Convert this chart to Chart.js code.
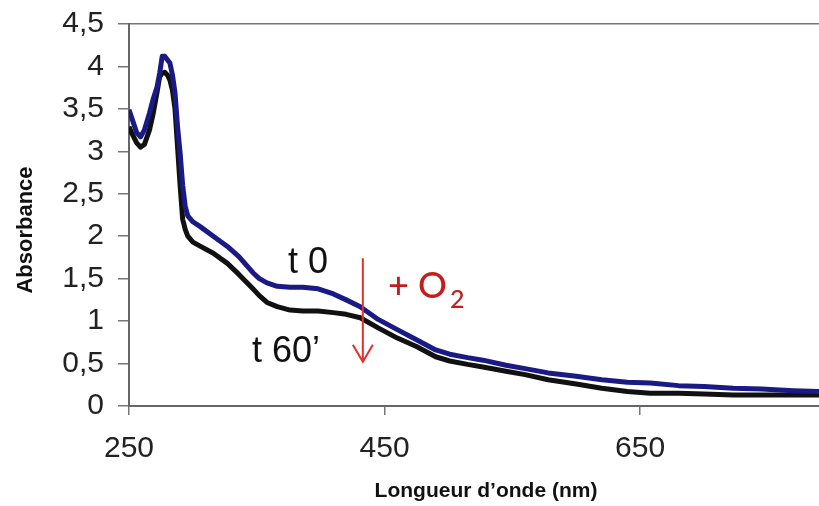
<!DOCTYPE html>
<html lang="fr">
<head>
  <meta charset="UTF-8">
  <title>Absorbance - Longueur d'onde</title>
  <script src="https://cdn.jsdelivr.net/npm/chart.js"></script>
  <style>
    body {
      margin: 0;
      padding: 0;
      background: #fff;
    }
    #wrap {
      width: 819px;
      height: 506px;
    }
  </style>
</head>
<body>
  <div id="wrap"><canvas id="graph"></canvas></div>

  <script>
    // longueur d'onde (nm)
    const wavelengths = [250, 252, 256, 259, 262, 266, 269, 272, 274, 276, 278, 280, 282, 284, 286, 288, 290, 292, 294, 296,
      300, 306, 316, 327, 336, 347, 352, 358, 366, 376, 386, 398, 410, 420, 431, 445, 460, 475, 490, 501,
      515, 527, 545, 560, 578, 600, 620, 640, 658, 680, 700, 723, 745, 770, 790];
    // t 0 (bleu)
    const absT0 = [3.49, 3.40, 3.22, 3.17, 3.25, 3.45, 3.62, 3.76, 3.92, 4.12, 4.12, 4.08, 4.04, 3.90, 3.69, 3.29, 2.98, 2.60, 2.35, 2.24,
      2.17, 2.11, 2.00, 1.88, 1.76, 1.57, 1.50, 1.45, 1.41, 1.40, 1.40, 1.38, 1.32, 1.25, 1.17, 1.02, 0.90, 0.78, 0.66, 0.61,
      0.57, 0.54, 0.48, 0.44, 0.39, 0.35, 0.31, 0.28, 0.27, 0.24, 0.23, 0.21, 0.20, 0.18, 0.17];
    // t 60' (noir)
    const absT60 = [3.29, 3.22, 3.10, 3.05, 3.08, 3.25, 3.45, 3.70, 3.88, 3.92, 3.93, 3.90, 3.84, 3.72, 3.50, 3.05, 2.60, 2.20, 2.08, 2.00,
      1.93, 1.88, 1.80, 1.68, 1.55, 1.38, 1.30, 1.22, 1.17, 1.13, 1.12, 1.12, 1.10, 1.08, 1.04, 0.92, 0.80, 0.70, 0.58, 0.53,
      0.49, 0.46, 0.41, 0.37, 0.31, 0.26, 0.21, 0.17, 0.15, 0.15, 0.14, 0.13, 0.13, 0.13, 0.13];
    const xTicks = [250, 450, 650];

    const toPoints = arr => wavelengths.map((w, i) => ({ x: w, y: arr[i] }));

    // textes, flèche et titres d'axes
    const annotations = {
      id: 'annotations',
      afterDraw(chart) {
        const c = chart.ctx;
        const xs = chart.scales.x, ys = chart.scales.y;
        c.save();

        c.fillStyle = '#111';
        c.font = '36px "Liberation Sans", Arial, sans-serif';
        c.textBaseline = 'alphabetic';
        c.textAlign = 'left';
        c.fillText('t 0', 288, 273);
        c.fillText('t 60\u2019', 252, 362);

        // flèche rouge
        const ax = xs.getPixelForValue(433);
        const y1 = ys.getPixelForValue(1.74);
        const y2 = ys.getPixelForValue(0.52);
        c.strokeStyle = '#e3302a';
        c.lineWidth = 2;
        c.beginPath();
        c.moveTo(ax, y1);
        c.lineTo(ax, y2);
        c.moveTo(ax - 10, y2 - 17);
        c.lineTo(ax, y2);
        c.lineTo(ax + 10, y2 - 17);
        c.stroke();

        c.fillStyle = '#c81c1c';
        c.font = '500 36px Lato, "Open Sans", sans-serif';
        c.fillText('+ O', 388, 298);
        c.font = '500 25px Lato, "Open Sans", sans-serif';
        c.fillText('2', 450, 308);

        // titres des axes
        c.fillStyle = '#111';
        c.font = 'bold 21px "Liberation Sans", Arial, sans-serif';
        c.textAlign = 'center';
        c.fillText('Longueur d\u2019onde (nm)', 486, 497);
        c.translate(32, 230);
        c.rotate(-Math.PI / 2);
        c.font = 'bold 22px "Liberation Sans", Arial, sans-serif';
        c.fillText('Absorbance', 0, 0);
        c.restore();
      }
    };

    const ctx = document.getElementById('graph').getContext('2d');
    const chart = new Chart(ctx, {
      type: 'scatter',
      data: {
        datasets: [
          {
            label: 't 0',
            data: toPoints(absT0),
            showLine: true,
            borderColor: '#1a1a86',
            backgroundColor: '#1a1a86',
            borderWidth: 5,
            borderJoinStyle: 'round',
            pointRadius: 0,
            tension: 0
          },
          {
            label: 't 60\u2019',
            data: toPoints(absT60),
            showLine: true,
            borderColor: '#111',
            backgroundColor: '#111',
            borderWidth: 5,
            borderJoinStyle: 'round',
            pointRadius: 0,
            tension: 0
          }
        ]
      },
      options: {
        responsive: true,
        maintainAspectRatio: false,
        animation: false,
        layout: { padding: { top: 24, right: 0, bottom: 0, left: 0 } },
        plugins: {
          legend: { display: false },
          tooltip: { enabled: false }
        },
        scales: {
          x: {
            type: 'linear',
            min: 250,
            max: 790,
            afterBuildTicks: s => { s.ticks = xTicks.map(v => ({ value: v })); },
            afterFit: s => { s.height = 100; s.paddingLeft = 0; s.paddingRight = 0; },
            grid: {
              drawOnChartArea: false,
              tickLength: 9,
              tickColor: '#777',
              lineWidth: 1.5
            },
            border: { color: '#666', width: 2 },
            ticks: {
              color: '#222',
              padding: 16,
              maxRotation: 0,
              font: { family: '"Liberation Sans", Arial, sans-serif', size: 30 }
            }
          },
          y: {
            min: 0,
            max: 4.5,
            afterFit: s => { s.width = 129; s.paddingTop = 0; s.paddingBottom = 0; },
            grid: {
              color: c => (c.tick && c.tick.value === 4.5) ? '#777' : 'rgba(0,0,0,0)',
              tickColor: '#777',
              tickLength: 11,
              lineWidth: 1.5
            },
            border: { color: '#666', width: 2 },
            ticks: {
              stepSize: 0.5,
              color: '#222',
              padding: 14,
              font: { family: '"Liberation Sans", Arial, sans-serif', size: 30 },
              callback: v => String(v).replace('.', ',')
            }
          }
        }
      },
      plugins: [annotations]
    });
  </script>
</body>
</html>
